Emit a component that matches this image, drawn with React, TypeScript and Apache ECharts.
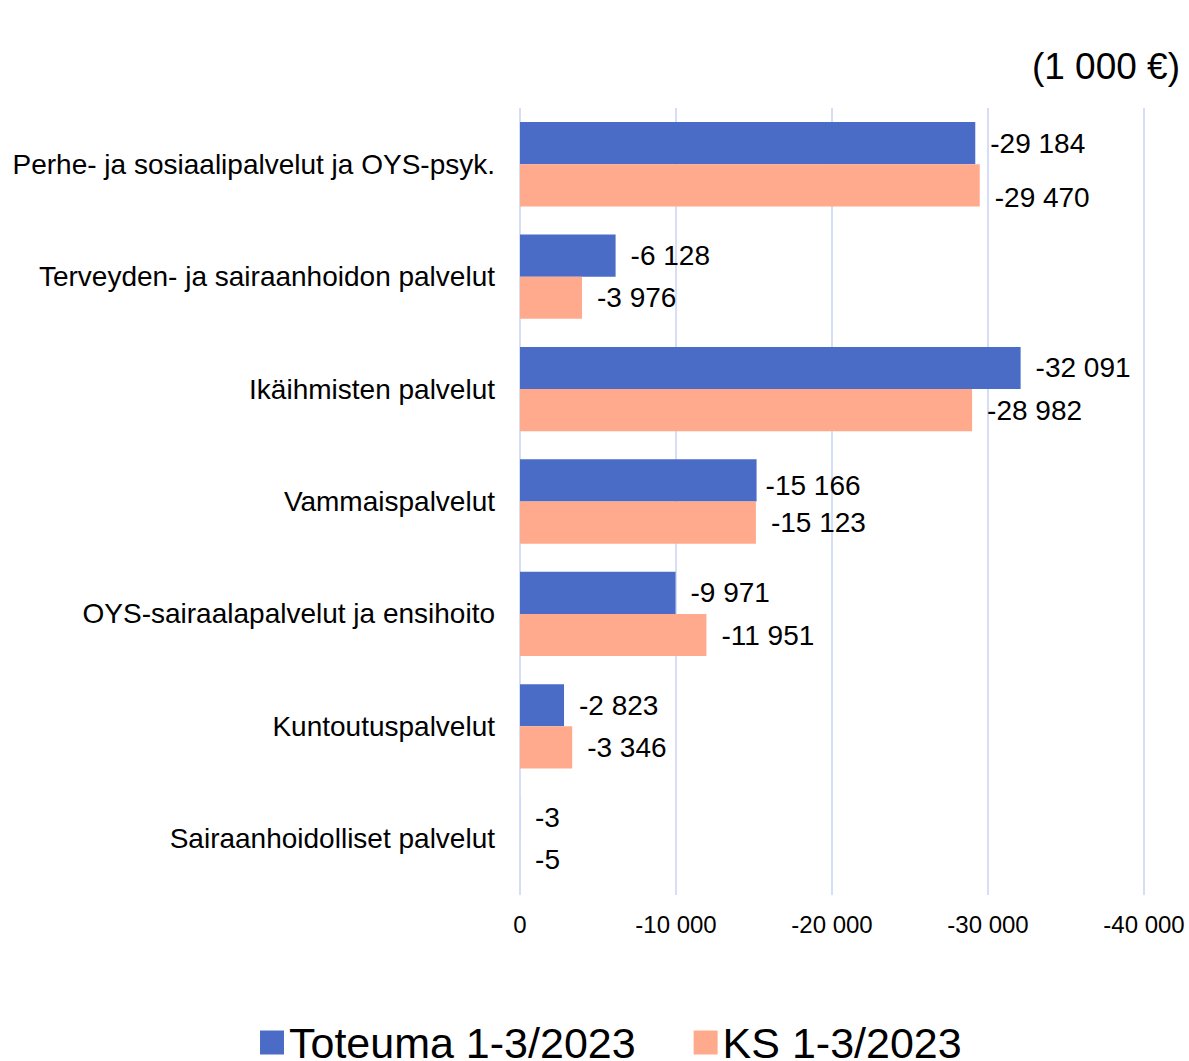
import React, { useEffect, useRef } from "react";
import * as echarts from "echarts";

const categories = [
  "Perhe- ja sosiaalipalvelut ja OYS-psyk.",
  "Terveyden- ja sairaanhoidon palvelut",
  "Ikäihmisten palvelut",
  "Vammaispalvelut",
  "OYS-sairaalapalvelut ja ensihoito",
  "Kuntoutuspalvelut",
  "Sairaanhoidolliset palvelut",
];
const toteuma = [-29184, -6128, -32091, -15166, -9971, -2823, -3];
const ks = [-29470, -3976, -28982, -15123, -11951, -3346, -5];
const seriesNames = ["Toteuma 1-3/2023", "KS 1-3/2023"];
const unitLabel = "(1 000 €)";

const fmt = (v: number) => String(v).replace(/\B(?=(\d{3})+(?!\d))/g, " ");
const FONT = "Liberation Sans, Arial, sans-serif";

export default function App() {
  const ref = useRef<HTMLDivElement>(null);
  useEffect(() => {
    document.body.style.margin = "0";
    if (!ref.current) return;
    const chart = echarts.init(ref.current, undefined, { renderer: "svg" });
    const labelBase = {
      show: true,
      position: "right" as const,
      distance: 15,
      color: "#000",
      fontSize: 28,
      fontFamily: FONT,
      formatter: (p: any) => fmt(p.value),
    };
    chart.setOption({
      animation: false,
      backgroundColor: "#fff",
      textStyle: { fontFamily: FONT },
      title: {
        text: unitLabel,
        right: 4,
        top: 43,
        textStyle: { fontSize: 37, fontWeight: "normal", color: "#000", fontFamily: FONT },
      },
      legend: {
        bottom: -8,
        left: 255,
        icon: "rect",
        itemWidth: 24,
        itemHeight: 24,
        itemGap: 58,
        textStyle: { fontSize: 43, color: "#000", fontFamily: FONT },
        data: seriesNames,
      },
      grid: { left: 520, right: 45, top: 108, bottom: 166, containLabel: false },
      xAxis: {
        type: "value",
        min: -40000,
        max: 0,
        interval: 10000,
        inverse: true,
        axisLine: { show: false },
        axisTick: { show: false },
        splitLine: { lineStyle: { color: "#c9d3f5", width: 1.5 } },
        axisLabel: { margin: 17, fontSize: 24, color: "#000", fontFamily: FONT, formatter: (v: number) => fmt(v) },
      },
      yAxis: {
        type: "category",
        data: categories,
        inverse: true,
        axisLine: { show: false },
        axisTick: { show: false },
        axisLabel: { margin: 25, fontSize: 28, color: "#000", fontFamily: FONT },
      },
      series: [
        {
          name: seriesNames[0],
          type: "bar",
          barGap: "0%",
          barCategoryGap: "25%",
          itemStyle: { color: "#4a6cc7" },
          label: labelBase,
          data: toteuma.map((v, i) =>
            i === 3 ? { value: v, label: { offset: [-6, 5] } } : { value: v }
          ),
        },
        {
          name: seriesNames[1],
          type: "bar",
          itemStyle: { color: "#ffaa8c" },
          label: labelBase,
          data: ks.map((v, i) =>
            i === 0 ? { value: v, label: { offset: [0, 12] } } : { value: v }
          ),
        },
      ],
    });
    return () => chart.dispose();
  }, []);
  return <div ref={ref} style={{ width: 1189, height: 1061 }} />;
}
